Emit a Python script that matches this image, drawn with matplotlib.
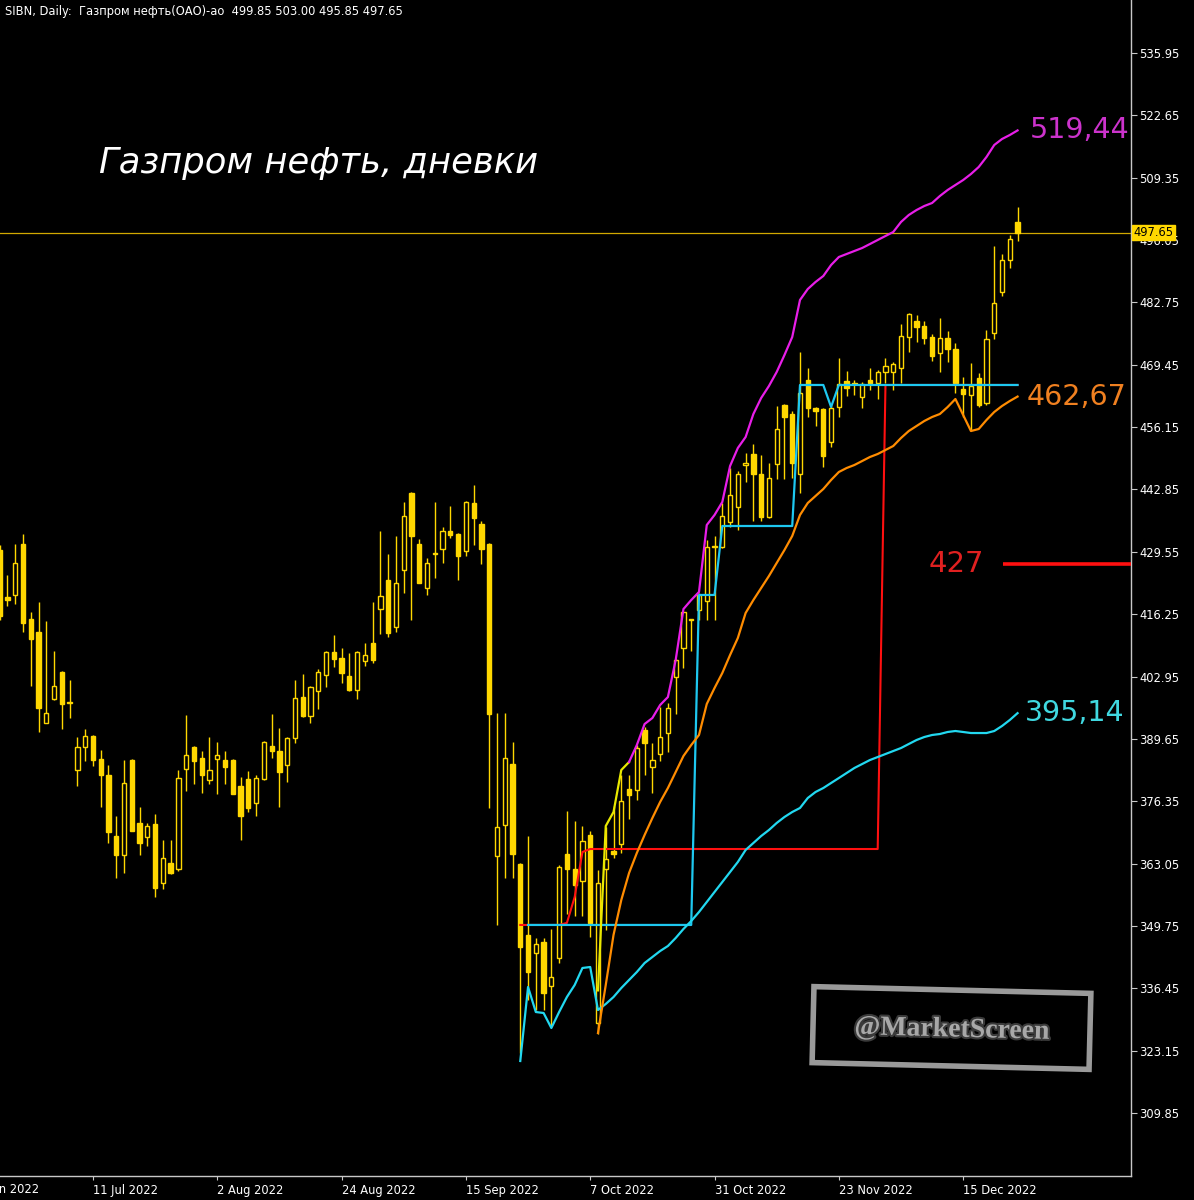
import numpy as np
import matplotlib
matplotlib.use('Agg')
import matplotlib.pyplot as plt
from matplotlib.patches import Rectangle
from matplotlib.transforms import IdentityTransform, blended_transform_factory
import matplotlib.patheffects as pe

# --- Data (daily candles, SIBN) ---
opens = [429.9, 419.9, 420.3, 431.2, 415.2, 412.5, 393.1, 398.1, 404.0, 397.5,
         383.0, 387.9, 390.3, 385.4, 382.0, 368.9, 364.9, 385.1, 371.7, 368.8,
         371.5, 358.9, 363.1, 362.0, 383.2, 388.0, 385.6, 380.9, 385.3, 385.1,
         385.1, 379.6, 381.0, 375.9, 381.0, 388.2, 387.1, 384.0, 389.8, 398.5,
         394.5, 399.9, 403.2, 408.1, 406.8, 403.1, 400.1, 406.3, 410.0, 417.4,
         423.5, 413.5, 425.7, 442.2, 431.2, 421.9, 429.2, 430.1, 434.0, 433.3,
         429.8, 439.9, 435.5, 431.2, 364.7, 371.3, 384.3, 362.9, 347.8, 343.9,
         346.3, 336.9, 342.9, 365.0, 361.8, 359.4, 369.1, 329.0, 362.0, 365.8,
         367.2, 378.9, 378.7, 391.5, 383.7, 386.4, 391.0, 402.9, 409.0, 415.2,
         417.2, 419.0, 430.6, 430.6, 436.0, 439.2, 448.0, 450.4, 446.2, 437.0,
         448.2, 460.9, 459.0, 446.1, 466.1, 460.2, 460.0, 453.0, 460.4, 465.9,
         465.6, 462.6, 466.2, 465.5, 468.0, 468.0, 468.7, 475.4, 478.8, 477.7,
         475.4, 472.0, 475.1, 472.9, 464.2, 463.0, 466.7, 461.2, 476.2, 484.9,
         491.9, 499.85]
highs = [431.0, 424.6, 431.2, 433.4, 416.7, 418.9, 414.8, 408.4, 404.2, 402.2,
         390.1, 391.8, 390.5, 387.3, 384.1, 373.1, 385.1, 385.3, 375.2, 371.7,
         373.6, 368.1, 368.1, 383.0, 394.7, 388.2, 387.0, 390.1, 389.0, 387.0,
         385.3, 381.6, 382.9, 382.0, 389.2, 394.9, 391.9, 390.1, 402.2, 403.4,
         401.0, 404.6, 408.3, 411.9, 409.0, 407.9, 408.3, 410.0, 418.9, 434.0,
         429.1, 433.0, 440.1, 442.4, 432.3, 428.2, 440.1, 434.8, 439.3, 433.5,
         440.3, 443.7, 436.2, 431.4, 395.2, 395.1, 389.0, 363.1, 368.9, 347.1,
         347.1, 349.0, 362.8, 374.2, 372.1, 371.1, 370.0, 361.7, 370.9, 375.4,
         382.0, 382.0, 388.3, 392.2, 388.8, 396.5, 397.2, 406.7, 416.8, 415.3,
         420.8, 432.0, 433.0, 440.0, 447.4, 446.8, 450.7, 452.6, 450.1, 448.4,
         460.6, 461.1, 459.6, 472.2, 468.7, 460.5, 460.3, 460.8, 471.0, 468.2,
         466.2, 465.8, 468.7, 468.3, 470.8, 470.0, 478.1, 480.4, 480.1, 478.8,
         476.0, 479.5, 476.7, 474.0, 466.9, 469.9, 467.8, 476.9, 494.8, 493.1,
         497.1, 503.00]
lows = [415.0, 418.0, 418.4, 412.5, 401.0, 391.1, 393.0, 397.9, 391.7, 394.2,
        379.6, 385.0, 383.9, 375.2, 367.4, 359.9, 361.0, 369.9, 364.9, 366.9,
        356.0, 357.6, 360.9, 361.5, 378.6, 380.0, 378.2, 380.0, 378.0, 380.0,
        377.8, 368.1, 374.1, 373.1, 380.8, 385.6, 375.2, 380.4, 388.7, 394.3,
        393.1, 396.0, 400.8, 405.0, 401.6, 399.9, 398.1, 405.3, 405.9, 412.0,
        411.3, 412.4, 420.7, 415.0, 422.8, 420.4, 424.0, 427.1, 432.6, 423.5,
        428.7, 431.0, 426.9, 375.0, 349.9, 359.9, 359.9, 322.6, 334.0, 331.8,
        331.8, 328.3, 341.8, 352.4, 351.9, 351.9, 347.4, 326.8, 348.9, 364.2,
        365.3, 372.5, 376.6, 382.0, 378.2, 385.0, 386.9, 395.0, 404.7, 408.4,
        415.0, 415.1, 415.0, 430.4, 434.9, 434.2, 444.5, 436.2, 436.2, 436.8,
        445.0, 445.0, 445.2, 442.0, 458.4, 456.3, 447.7, 452.0, 458.4, 462.7,
        463.0, 460.2, 464.1, 462.1, 465.5, 464.1, 465.6, 472.2, 474.4, 473.8,
        470.3, 468.0, 470.1, 463.4, 458.4, 455.5, 460.4, 460.9, 474.9, 484.2,
        490.0, 495.85]
closes = [415.9, 419.2, 427.1, 414.4, 411.0, 396.2, 395.1, 400.9, 397.0, 397.3,
          388.0, 390.3, 385.1, 381.9, 369.7, 364.9, 380.2, 370.1, 367.5, 371.1,
          357.8, 364.2, 361.0, 381.4, 386.2, 385.0, 381.9, 383.0, 386.2, 383.7,
          378.0, 373.1, 375.0, 381.3, 389.0, 387.1, 382.6, 389.9, 398.3, 394.5,
          400.7, 404.0, 408.1, 406.7, 403.8, 400.1, 408.1, 407.5, 406.5, 420.1,
          412.2, 423.0, 437.2, 432.9, 423.0, 427.1, 429.0, 434.0, 433.1, 428.7,
          440.1, 436.7, 430.1, 394.9, 370.9, 385.5, 365.1, 345.3, 340.0, 346.0,
          335.4, 338.8, 362.4, 362.0, 358.5, 367.9, 350.4, 359.0, 364.0, 365.2,
          376.4, 377.7, 387.6, 388.8, 385.1, 390.1, 396.3, 406.5, 416.7, 415.0,
          420.3, 430.6, 430.8, 437.2, 441.7, 446.1, 448.6, 446.1, 437.0, 445.4,
          455.7, 458.3, 448.6, 463.4, 460.2, 459.6, 450.0, 460.3, 465.3, 464.4,
          465.3, 465.3, 465.5, 468.0, 469.2, 469.6, 475.6, 480.2, 477.6, 475.2,
          471.4, 475.1, 472.8, 465.5, 463.2, 465.0, 460.9, 474.9, 482.6, 491.9,
          496.3, 497.65]

# upper band (yellow start, then magenta), starts at bar 77
upper_start = 77
upper_band = [336.0, 371.07, 374.05, 383.01, 384.72, 388.34, 392.82, 394.10, 396.88, 398.58,
              406.48, 417.35, 419.27, 420.98, 435.27, 437.41, 440.18, 447.86, 451.70, 454.04,
              458.95, 462.36, 464.92, 467.91, 471.53, 475.37, 483.27, 485.61, 487.11, 488.39,
              490.73, 492.44, 493.08, 493.72, 494.36, 495.21, 496.07, 496.92, 497.77, 499.91,
              501.40, 502.46, 503.32, 503.96, 505.45, 506.73, 507.80, 508.86, 510.14, 511.64,
              513.77, 516.33, 517.61, 518.46, 519.44]
upper_yellow_bars = 5

# middle (orange), starts at bar 77
mid_start = 77
mid_band = [326.91, 337.15, 347.82, 355.28, 361.04, 365.31, 369.15, 372.77, 376.19, 379.17,
            382.58, 386.00, 388.34, 390.48, 397.09, 400.50, 403.70, 407.54, 411.17, 416.50,
            419.27, 421.83, 424.39, 427.17, 429.94, 432.93, 437.41, 439.97, 441.46, 442.95,
            444.87, 446.58, 447.43, 448.07, 448.92, 449.78, 450.42, 451.27, 452.12, 453.83,
            455.32, 456.39, 457.46, 458.31, 458.95, 460.44, 462.15, 458.74, 455.32, 455.75,
            457.67, 459.38, 460.66, 461.72, 462.67]

# lower band (cyan), starts at bar 67
low_start = 67
low_band = [320.94, 336.72, 331.39, 331.18, 327.98, 331.39, 334.59, 337.15, 340.78, 340.99,
            331.82, 333.10, 334.59, 336.51, 338.22, 339.92, 341.84, 343.12, 344.40, 345.47,
            347.18, 349.10, 350.80, 352.72, 354.85, 356.99, 359.12, 361.25, 363.39, 365.95,
            367.44, 368.93, 370.21, 371.71, 372.99, 374.05, 374.91, 377.04, 378.32, 379.17,
            380.24, 381.30, 382.37, 383.44, 384.29, 385.14, 385.78, 386.42, 387.06, 387.70,
            388.56, 389.41, 390.05, 390.48, 390.69, 391.12, 391.33, 391.12, 390.90, 390.90,
            390.90, 391.33, 392.40, 393.68, 395.14]

# red step line, starts at bar 67
red_start = 67
red_step = [349.96, 349.96, 349.96, 349.96, 349.96, 349.96, 350.40, 355.93, 365.52, 366.16,
            366.16, 366.16, 366.16, 366.16, 366.16, 366.16, 366.16, 366.16, 366.16, 366.16,
            366.16, 366.16, 366.16, 366.16, 366.16, 366.16, 366.16, 366.16, 366.16, 366.16,
            366.16, 366.16, 366.16, 366.16, 366.16, 366.16, 366.16, 366.16, 366.16, 366.16,
            366.16, 366.16, 366.16, 366.16, 366.16, 366.16, 366.16, 465.14, 465.14, 465.14,
            465.14, 465.14, 465.14, 465.14, 465.14, 465.14, 465.14, 465.14, 465.14, 465.14,
            465.14, 465.14, 465.14, 465.14, 465.14]

# cyan step line, starts at bar 68
step_start = 68
cyan_step = [349.96, 349.96, 349.96, 349.96, 349.96, 349.96, 349.96, 349.96, 349.96, 349.96,
             349.96, 349.96, 349.96, 349.96, 349.96, 349.96, 349.96, 349.96, 349.96, 349.96,
             349.96, 349.96, 420.35, 420.35, 420.35, 435.06, 435.06, 435.06, 435.06, 435.06,
             435.06, 435.06, 435.06, 435.06, 435.06, 465.14, 465.14, 465.14, 465.14, 460.45,
             465.14, 465.14, 465.14, 465.14, 465.14, 465.14, 465.14, 465.14, 465.14, 465.14,
             465.14, 465.14, 465.14, 465.14, 465.14, 465.14, 465.14, 465.14, 465.14, 465.14,
             465.14, 465.14, 465.14, 465.14]

level_427 = 427.0
level_start_bar = 129.1
last_price = 497.65

price_ticks = [309.85, 323.15, 336.45, 349.75, 363.05, 376.35, 389.65, 402.95, 416.25,
               429.55, 442.85, 456.15, 469.45, 482.75, 496.05, 509.35, 522.65, 535.95]
date_bars = [-4, 12, 28, 44, 60, 76, 92, 108, 124]
date_labels = ['17 Jun 2022', '11 Jul 2022', '2 Aug 2022', '24 Aug 2022', '15 Sep 2022',
               '7 Oct 2022', '31 Oct 2022', '23 Nov 2022', '15 Dec 2022']

header = 'SIBN, Daily:  Газпром нефть(ОАО)-ао  499.85 503.00 495.85 497.65'
title = 'Газпром нефть, дневки'

# --- Style ---
GOLD = '#FFD700'
AXIS_C = '#C8C8C8'
W, H = 1194, 1200

fig = plt.figure(figsize=(W / 100, H / 100), dpi=100, facecolor='black')
ax = fig.add_axes([0, 24 / H, 1131 / W, 1176 / H], facecolor='black')
ax.set_xlim(0.04, 145.6)
ax.set_ylim(296.41, 547.26)

for s in ['left', 'top']:
    ax.spines[s].set_visible(False)
for s in ['right', 'bottom']:
    ax.spines[s].set_color(AXIS_C)
    ax.spines[s].set_linewidth(1.0)

ax.yaxis.tick_right()
ax.set_yticks(price_ticks)
ax.set_yticklabels([f'{v:.2f}' for v in price_ticks])
ax.tick_params(axis='y', colors=AXIS_C, labelcolor='white', length=4, width=0.8,
               direction='out', labelsize=8.3, pad=2)
ax.set_xticks(date_bars[1:])
ax.set_xticklabels(date_labels[1:])
ax.tick_params(axis='x', colors=AXIS_C, labelcolor='white', length=3, width=0.8,
               direction='out', labelsize=8.3, pad=3)
for lab in ax.get_xticklabels():
    lab.set_horizontalalignment('left')
# first date label sits left of the visible window, only its tail shows
trans_xa = blended_transform_factory(ax.transData, ax.transAxes)
ax.text(date_bars[0] + 0.15, -0.006, date_labels[0], transform=trans_xa, ha='left', va='top',
        color='white', fontsize=8.3, clip_on=False)

# --- Candles ---
o = np.array(opens); h = np.array(highs); l = np.array(lows); c = np.array(closes)
x = np.arange(len(o))
up = c >= o
ax.vlines(x, l, h, color=GOLD, lw=1.0, zorder=3)
bottoms = np.minimum(o, c)
heights = np.maximum(np.abs(c - o), 0.05)
ax.bar(x[up], heights[up], bottom=bottoms[up], width=0.55, facecolor='black',
       edgecolor=GOLD, linewidth=1.0, zorder=4)
ax.bar(x[~up], heights[~up], bottom=bottoms[~up], width=0.55, facecolor=GOLD,
       edgecolor=GOLD, linewidth=1.0, zorder=4)

# --- Indicator lines ---
ax.axhline(last_price, color='#D2A800', lw=0.9, zorder=2)

xr = red_start + np.arange(len(red_step))
ax.plot(xr, red_step, color='#FF1010', lw=1.5, zorder=5)
xs = step_start + np.arange(len(cyan_step))
ax.plot(xs, cyan_step, color='#1EC8F0', lw=1.6, zorder=6)

xl = low_start + np.arange(len(low_band))
ax.plot(xl, low_band, color='#22D8F0', lw=1.6, zorder=6)
xm = mid_start + np.arange(len(mid_band))
ax.plot(xm, mid_band, color='#FF8C00', lw=1.6, zorder=6)
xu = upper_start + np.arange(len(upper_band))
ax.plot(xu[:upper_yellow_bars], upper_band[:upper_yellow_bars], color='#E8E800', lw=1.6, zorder=6)
ax.plot(xu[upper_yellow_bars - 1:], upper_band[upper_yellow_bars - 1:], color='#E81EE8',
        lw=1.6, zorder=6)

# red 427 level near the right edge
ax.plot([level_start_bar, ax.get_xlim()[1] + 1], [level_427, level_427], color='#FF1010',
        lw=2.6, zorder=6, solid_capstyle='butt')

# --- Texts ---
fig.text(5 / W, 1 - 11 / H, header, color='white', fontsize=8.3, va='center', ha='left')
fig.text(99 / W, 1 - 163 / H, title, color='white', fontsize=25.5, style='italic',
         va='center', ha='left')

trans_ay = blended_transform_factory(ax.transAxes, ax.transData)
ax.text(1.0 - 101 / 1131, upper_band[-1], '519,44', transform=trans_ay, color='#CC33CC',
        fontsize=20.5, va='center', ha='left')
ax.text(1.0 - 104 / 1131, mid_band[-1], '462,67', transform=trans_ay, color='#F08020',
        fontsize=20.5, va='center', ha='left')
ax.text(1.0 - 106 / 1131, low_band[-1], '395,14', transform=trans_ay, color='#40D8E0',
        fontsize=20.5, va='center', ha='left')
ax.text(1.0 - 202 / 1131, level_427, '427', transform=trans_ay, color='#E02020',
        fontsize=21, va='center', ha='left')

# last price box on the axis
ax.text(1.002, last_price, f'{last_price:.2f}', transform=trans_ay, color='black',
        fontsize=8.3, va='center', ha='left', clip_on=False, zorder=10,
        bbox=dict(boxstyle='square,pad=0.12', fc=GOLD, ec=GOLD))

# --- Watermark ---
rect = Rectangle((813, 1200 - 1066), 277, 76, angle=-1.4, rotation_point='center',
                 transform=IdentityTransform(), fill=False, edgecolor='#9A9A9A', lw=4)
fig.patches.append(rect)
fig.text(952 / W, 1 - 1030 / H, '@MarketScreen', color='#A8A8A8', fontsize=20,
         family='Liberation Serif', weight='bold', rotation=-1.4, ha='center', va='center',
         path_effects=[pe.withStroke(linewidth=3, foreground='#3A3A3A')])

fig.savefig('out.png', dpi=100, facecolor='black')
